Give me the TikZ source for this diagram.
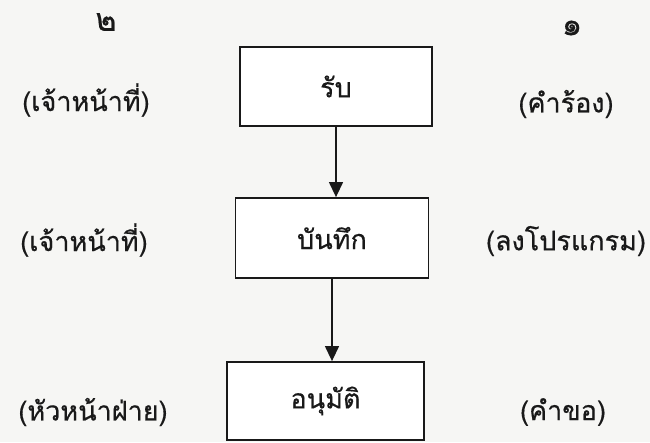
\documentclass[tikz,border=0pt]{standalone}
\usepackage{fontspec}
\newfontfamily\thaifont[Script=Thai,FakeBold=0.5]{Loma}
\usetikzlibrary{arrows.meta}
\definecolor{paper}{RGB}{246,246,244}
\definecolor{ink}{RGB}{25,25,25}
\tikzset{
  stepbox/.style={draw=ink, line width=1.8pt, fill=white, inner sep=0pt, text=ink, font=\thaifont\fontsize{27}{32}\selectfont},
  lbl/.style={font=\thaifont\fontsize{27}{32}\selectfont, inner sep=0pt, text=ink},
  num/.style={font=\thaifont\fontsize{32}{36}\selectfont, inner sep=0pt, text=ink},
  flow/.style={draw=ink, line width=1.3pt, -{Triangle[length=15pt,width=14pt]}}
}
\begin{document}
\begin{tikzpicture}[x=1pt,y=-1pt]
\useasboundingbox (0,0) rectangle (650,442);
\fill[paper] (0,0) rectangle (650,442);
\node[stepbox, minimum width=192pt, minimum height=79pt] (b1) at (336,86.5) {รับ};
\node[stepbox, minimum width=193pt, minimum height=80pt] (b2) at (332,238) {บันทึก};
\node[stepbox, minimum width=197pt, minimum height=78pt] (b3) at (325.5,401) {อนุมัติ};
\draw[flow] (b1.south) -- (b1.south |- b2.north);
\draw[flow] (b2.south) -- (b2.south |- b3.north);
\node[num] (n2) at (106,22) {๒};
\node[num] (n1) at (572,28) {๑};
\node[lbl] (l1) at (86,100) {(เจ้าหน้าที่)};
\node[lbl] (l2) at (84,240) {(เจ้าหน้าที่)};
\node[lbl] (l3) at (93,412) {(หัวหน้าฝ่าย)};
\node[lbl] (r1) at (566,104) {(คำร้อง)};
\node[lbl] (r2) at (566,241) {(ลงโปรแกรม)};
\node[lbl] (r3) at (563,412) {(คำขอ)};
\end{tikzpicture}
\end{document}
